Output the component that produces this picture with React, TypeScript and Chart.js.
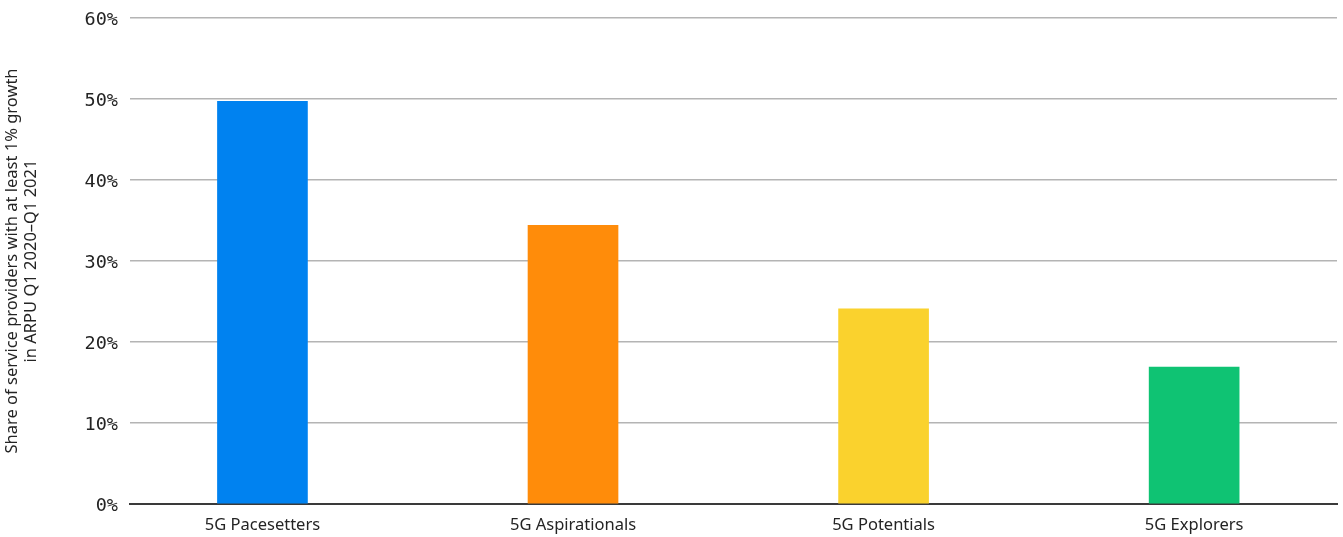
import React, { useEffect, useRef } from "react";
import { Chart, registerables } from "chart.js";

Chart.register(...registerables);

const categories = ["5G Pacesetters", "5G Aspirationals", "5G Potentials", "5G Explorers"];
const shareValues = [49.7, 34.4, 24.1, 16.9];
const barColors = ["#0082F0", "#FF8C0A", "#FAD22D", "#0FC373"];
const yTicks = [0, 10, 20, 30, 40, 50, 60];
const yTitle = ["Share of service providers with at least 1% growth", "in ARPU Q1 2020\u2013Q1 2021"];

export default function App() {
  const ref = useRef<HTMLCanvasElement | null>(null);

  useEffect(() => {
    if (!ref.current) return;
    const chart = new Chart(ref.current, {
      type: "bar",
      data: {
        datasets: [
          {
            data: shareValues.map((v, i) => ({ x: i, y: v })),
            backgroundColor: barColors,
            barThickness: 90,
            borderWidth: 0,
          },
        ],
      },
      options: {
        animation: false,
        responsive: false,
        maintainAspectRatio: false,
        layout: { padding: { top: 18, right: 6, bottom: 0, left: 0 } },
        plugins: { legend: { display: false }, tooltip: { enabled: false } },
        scales: {
          x: {
            type: "linear",
            offset: false,
            bounds: "data",
            min: -0.4265,
            max: 3.46,
            afterBuildTicks: (s: any) => {
              s.ticks = categories.map((_, i) => ({ value: i }));
            },
            afterFit: (s: any) => {
              s.height = 33;
              s.paddingLeft = 0;
              s.paddingRight = 0;
            },
            ticks: {
              autoSkip: false,
              maxRotation: 0,
              padding: 11,
              color: "#242424",
              font: { family: "'Noto Sans'", size: 16.5 },
              callback: (v: any) => categories[v as number] ?? "",
            },
            grid: { display: false, drawTicks: false },
            border: { display: true, color: "#3a3a3a", width: 2 },
          },
          y: {
            min: 0,
            max: 60,
            afterBuildTicks: (s: any) => {
              s.ticks = yTicks.map((v) => ({ value: v }));
            },
            afterFit: (s: any) => {
              s.width = 130;
              s.paddingTop = 0;
              s.paddingBottom = 0;
            },
            ticks: {
              padding: 12,
              labelOffset: 2,
              color: "#242424",
              font: { family: "'DejaVu Sans Mono'", size: 18.5 },
              callback: (v: any) => v + "%",
            },
            grid: {
              drawTicks: false,
              color: (c: any) => (c.tick && c.tick.value === 0 ? "rgba(0,0,0,0)" : "#b4b4b4"),
              lineWidth: 1.5,
            },
            border: { display: false },
            title: {
              display: true,
              text: yTitle,
              color: "#242424",
              font: { family: "'Noto Sans'", size: 16.5 },
              padding: { top: 2, bottom: 0 },
            },
          },
        },
      },
    });
    return () => chart.destroy();
  }, []);

  return (
    <div style={{ position: "fixed", left: 0, top: 0, width: 1343, height: 537, background: "#fff" }}>
      <canvas ref={ref} width={1343} height={537} style={{ width: 1343, height: 537 }} />
    </div>
  );
}
